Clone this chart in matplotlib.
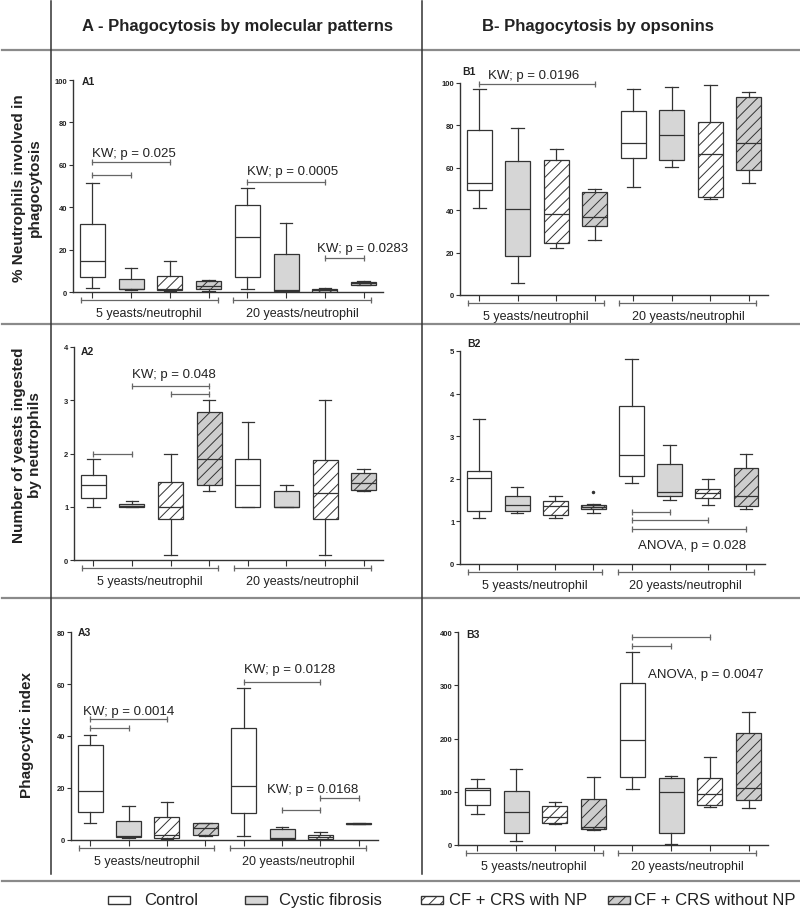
import matplotlib.pyplot as plt
import matplotlib.transforms as mtransforms
from matplotlib.lines import Line2D
from matplotlib.patches import Rectangle

plt.rcParams['font.family'] = ['Liberation Sans', 'DejaVu Sans']
plt.rcParams['hatch.linewidth'] = 0.7

# groups / legend
groups = ['Control', 'Cystic fibrosis', 'CF + CRS with NP', 'CF + CRS without NP']
ratios = ['5 yeasts/neutrophil', '20 yeasts/neutrophil']

# five-number summaries [min, q1, median, q3, max], 4 groups x 2 ratios
A1 = [[1.9, 6.9, 14.8, 32.2, 51.6], [0.9, 1.3, 1.4, 6.3, 11.3],
      [0.5, 0.9, 1.2, 7.7, 14.6], [0.3, 1.3, 3.0, 5.2, 5.5],
      [1.6, 7.1, 25.8, 41.0, 49.2], [0.0, 0.5, 0.8, 18.1, 32.4],
      [0.0, 0.2, 0.8, 1.4, 1.9], [3.3, 3.5, 4.2, 4.7, 5.0]]
B1 = [[41, 49.4, 53, 78, 97], [5.5, 18.4, 40.5, 63, 79],
      [22, 24.4, 38.1, 63.6, 69], [26, 32.4, 36.9, 48.5, 50.2],
      [50.9, 64.6, 71.7, 86.8, 97], [60.2, 63.5, 75.4, 87.1, 98.3],
      [45.2, 46.1, 66.5, 81.7, 99.2], [52.6, 59, 71.7, 93.2, 95.9]]
A2 = [[1.0, 1.17, 1.4, 1.6, 1.9], [1.0, 1.0, 1.02, 1.05, 1.1],
      [0.1, 0.77, 1.0, 1.46, 2.0], [1.3, 1.4, 1.9, 2.77, 3.0],
      [1.0, 1.0, 1.4, 1.9, 2.6], [1.0, 1.0, 1.0, 1.3, 1.4],
      [0.1, 0.77, 1.25, 1.87, 3.0], [1.3, 1.32, 1.45, 1.64, 1.7]]
B2 = [[1.09, 1.25, 2.01, 2.19, 3.41], [1.19, 1.25, 1.39, 1.59, 1.8],
      [1.09, 1.14, 1.35, 1.49, 1.59], [1.19, 1.29, 1.33, 1.39, 1.4],
      [1.9, 2.07, 2.55, 3.7, 4.81], [1.5, 1.59, 1.68, 2.35, 2.8],
      [1.39, 1.54, 1.66, 1.77, 2.0], [1.3, 1.35, 1.6, 2.25, 2.59]]
B2_outliers = {3: [1.69]}
A3 = [[6.5, 10.7, 18.9, 36.4, 40.3], [0.9, 1.2, 1.5, 7.2, 12.9],
      [0.3, 0.6, 1.8, 8.8, 14.6], [1.7, 2.0, 4.7, 6.5, 6.6],
      [1.5, 10.4, 20.8, 43.1, 58.4], [0.0, 0.4, 0.6, 4.2, 5.0],
      [0.0, 0.4, 1.0, 1.9, 3.2], [6.2, 6.25, 6.3, 6.35, 6.4]]
B3 = [[59, 76, 103, 107.4, 123.7], [7.5, 22, 61.5, 101.7, 142],
      [39, 40.8, 52.7, 74, 81.6], [28.9, 30.8, 33.3, 86, 126.8],
      [104.9, 127.5, 197.8, 305, 363], [1.9, 23.2, 99.8, 125, 128.7],
      [71, 76, 96.7, 125.6, 165.8], [69, 85.4, 106.7, 210.4, 250.5]]

# significance bars (from box, to box, height) and their labels
A1_bars = [(1, 3, 61.3), (1, 2, 55), (5, 7, 52), (7, 8, 15.9)]
A1_notes = [(1.0, 65.4, 'KW; p = 0.025', 'left'), (5.0, 57, 'KW; p = 0.0005', 'left'),
            (6.8, 20.9, 'KW; p = 0.0283', 'left')]
B1_bars = [(1, 4, 99.5)]
B1_notes = [(1.24, 103.6, 'KW; p = 0.0196', 'left')]
A2_bars = [(2, 4, 3.26), (3, 4, 3.12), (1, 2, 2.0)]
A2_notes = [(2.0, 3.49, 'KW; p = 0.048', 'left')]
B2_bars = [(5, 6, 1.23), (5, 7, 1.04), (5, 8, 0.83)]
B2_notes = [(8.0, 0.45, 'ANOVA, p = 0.028', 'right')]
A3_bars = [(1, 3, 46.5), (1, 2, 43.2), (5, 7, 60.6), (7, 8, 16.1), (6, 7, 11.6)]
A3_notes = [(0.82, 49.7, 'KW; p = 0.0014', 'left'), (5.0, 65.9, 'KW; p = 0.0128', 'left'),
            (5.6, 19.7, 'KW; p = 0.0168', 'left')]
B3_bars = [(5, 7, 390), (5, 6, 374)]
B3_notes = [(5.4, 321.5, 'ANOVA, p = 0.0047', 'left')]

fills = ['white', '#d6d6d6', 'white', '#cdcdcd']
hatches = ['', '', '///', '///']
edge = '#333333'
bar_col = '#666666'

W, H = 800, 912
fig = plt.figure(figsize=(W / 100, H / 100), dpi=100)


def add_ax(l, r, t, b):
    return fig.add_axes([l / W, 1 - b / H, (r - l) / W, (b - t) / H])


def hline(y, x0, x1, color='#8a8a8a', lw=1.6):
    fig.add_artist(Line2D([x0 / W, x1 / W], [1 - y / H, 1 - y / H], color=color,
                          lw=lw, transform=fig.transFigure))


def vline(x, y0, y1, color='#333333', lw=1.1):
    fig.add_artist(Line2D([x / W, x / W], [1 - y0 / H, 1 - y1 / H], color=color,
                          lw=lw, transform=fig.transFigure))


def draw_panel(box_px, summary, top, step, bars, notes, label, label_px, outliers=None):
    ax = add_ax(*box_px)
    h_px = box_px[3] - box_px[2]
    stats = []
    for i, (lo, q1, med, q3, hi) in enumerate(summary):
        fl = outliers.get(i, []) if outliers else []
        stats.append(dict(whislo=lo, q1=q1, med=med, q3=q3, whishi=hi, fliers=fl))
    lp = dict(color=edge, linewidth=0.9)
    bp = ax.bxp(stats, positions=list(range(1, 9)), widths=0.65, patch_artist=True,
                showfliers=True, boxprops=dict(edgecolor=edge, linewidth=0.9),
                whiskerprops=lp, capprops=lp, medianprops=lp,
                flierprops=dict(marker='.', markersize=3, markerfacecolor=edge,
                                markeredgecolor=edge))
    for k, box in enumerate(bp['boxes']):
        box.set_facecolor(fills[k % 4])
        box.set_hatch(hatches[k % 4])

    ax.set_xlim(0.5, 8.5)
    ax.set_ylim(0, top)
    ax.set_yticks([step * i for i in range(int(round(top / step)) + 1)])
    ax.set_xticks(range(1, 9))
    ax.set_xticklabels([])
    for s in ['top', 'right']:
        ax.spines[s].set_visible(False)
    for s in ['left', 'bottom']:
        ax.spines[s].set_color(edge)
        ax.spines[s].set_linewidth(1.0)
    ax.tick_params(axis='y', length=3, width=0.8, color=edge, labelsize=5.5, pad=1)
    ax.tick_params(axis='x', length=4, width=0.8, color=edge)
    for t in ax.get_yticklabels():
        t.set_fontweight('bold')
        t.set_color('#222222')
    ax.patch.set_alpha(0)

    for x1, x2, y in bars:
        ax.plot([x1, x2], [y, y], color=bar_col, lw=0.9, marker='|', markersize=5,
                markeredgewidth=0.9, clip_on=False)
    for x, y, s, ha in notes:
        ax.text(x, y, s, ha=ha, va='center', fontsize=9.5, color='#222222')

    trans = mtransforms.blended_transform_factory(ax.transData, ax.transAxes)
    spans = [(0.7, 4.23), (4.64, 8.2)]
    for (x1, x2), name in zip(spans, ratios):
        ax.plot([x1, x2], [-8 / h_px] * 2, transform=trans, color=bar_col, lw=0.9,
                marker='|', markersize=5, markeredgewidth=0.9, clip_on=False)
        ax.text((x1 + x2) / 2, -21 / h_px, name, transform=trans, ha='center',
                va='center', fontsize=9, color='#222222')

    fig.text(label_px[0] / W, 1 - label_px[1] / H, label, fontsize=7.5,
             fontweight='bold', va='center', ha='left', color='#222222')
    return ax


draw_panel((73, 383, 81, 293), A1, 100, 20, A1_bars, A1_notes, 'A1', (82, 82))
draw_panel((460, 768, 84, 296), B1, 100, 20, B1_bars, B1_notes, 'B1', (462, 72))
draw_panel((74, 383, 348, 561), A2, 4, 1, A2_bars, A2_notes, 'A2', (81, 352))
draw_panel((460, 765, 352, 565), B2, 5, 1, B2_bars, B2_notes, 'B2', (467, 344),
           outliers=B2_outliers)
draw_panel((71, 378, 633, 841), A3, 80, 20, A3_bars, A3_notes, 'A3', (78, 633))
draw_panel((458, 768, 633, 846), B3, 400, 100, B3_bars, B3_notes, 'B3', (466, 635))

# frame lines of the figure table
hline(51, 2, 800)
hline(325, 2, 800)
hline(599, 2, 800)
hline(882, 2, 800)
vline(51, 2, 875)
vline(422, 2, 875)

# column headers and row labels
fig.text(238 / W, 1 - 26 / H, 'A - Phagocytosis by molecular patterns', fontsize=12,
         fontweight='bold', ha='center', va='center', color='#222222')
fig.text(598 / W, 1 - 26 / H, 'B- Phagocytosis by opsonins', fontsize=12,
         fontweight='bold', ha='center', va='center', color='#222222')
row_labels = ['% Neutrophils involved in\nphagocytosis',
              'Number of yeasts ingested\nby neutrophils',
              'Phagocytic index']
row_y = [188, 445, 735]
for lab, y in zip(row_labels, row_y):
    fig.text(27 / W, 1 - y / H, lab, rotation=90, fontsize=11, fontweight='bold',
             ha='center', va='center', multialignment='center', color='#222222',
             linespacing=1.25)

# legend
box_x = [108, 245, 421, 608]
text_x = [144, 279, 449, 634]
for k, name in enumerate(groups):
    rect = Rectangle((box_x[k] / W, 1 - 905 / H), 22 / W, 8 / H, transform=fig.transFigure,
                     facecolor=fills[k], edgecolor=edge, hatch=hatches[k], lw=1.0)
    fig.add_artist(rect)
    fig.text(text_x[k] / W, 1 - 901 / H, name, fontsize=12, ha='left', va='center',
             color='#222222')

plt.savefig('out.png', dpi=100)
